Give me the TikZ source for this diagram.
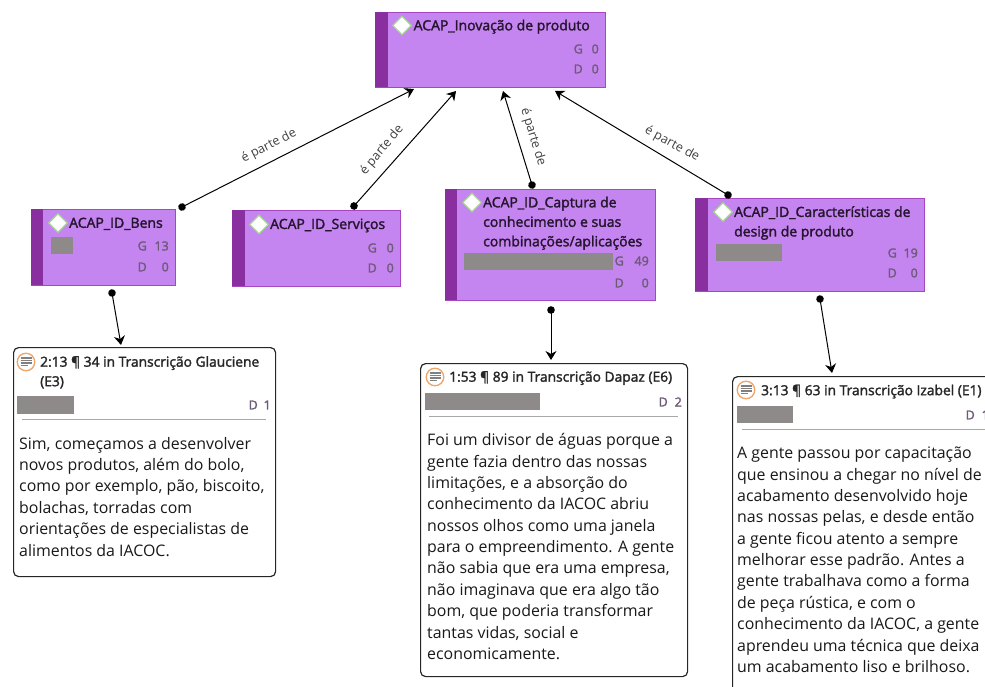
\documentclass[tikz,border=0pt]{standalone}
\usepackage{fontspec}
\setmainfont{Open Sans}
\newfontfamily\titlefont[FakeBold=2]{Open Sans}
\usetikzlibrary{arrows.meta,calc}
\definecolor{codefill}{HTML}{C585F0}
\definecolor{codestrip}{HTML}{8A2F9F}
\definecolor{codeedge}{HTML}{A845C0}
\definecolor{gdtext}{HTML}{6E5A78}
\definecolor{redact}{HTML}{8F8A8A}
\definecolor{titletext}{HTML}{25152E}
\definecolor{rulegray}{HTML}{A8A8A8}
\definecolor{iconorange}{HTML}{EDA56A}
\definecolor{icongray}{HTML}{808080}
\definecolor{diamondgreen}{HTML}{A5D68F}
\tikzset{
  codebox/.style={draw=codeedge,line width=1pt,fill=codefill,anchor=north west,inner sep=0pt},
  stripbox/.style={fill=codestrip,anchor=north west,inner sep=0pt,minimum width=12pt},
  notebox/.style={draw=black!85,line width=1.2pt,rounded corners=5pt,fill=white,anchor=north west,inner sep=0pt},
  codetitle/.style={anchor=north west,inner sep=0pt,align=left,text=titletext,font=\titlefont\fontsize{14}{19.5}\selectfont},
  notetitle/.style={anchor=north west,inner sep=0pt,align=left,text=black!85,font=\titlefont\fontsize{13.8}{19.5}\selectfont},
  gdlabel/.style={anchor=east,inner sep=0pt,text=gdtext,font=\titlefont\fontsize{12.5}{13}\selectfont},
  bodytext/.style={anchor=north west,inner sep=0pt,align=left,text=black!90,font=\fontsize{15.9}{21.35}\selectfont},
  redbox/.style={fill=redact,anchor=north west,inner sep=0pt},
  linklabel/.style={inner sep=0pt,text=black!75,font=\fontsize{12.6}{13}\selectfont},
  link/.style={line width=1pt,black,shorten <=-3.75pt,{Circle[length=7.5pt,width=7.5pt]}-{Stealth[length=9pt,width=11pt]}},
  diamond mark/.style={draw=diamondgreen,fill=white,line width=1.3pt,shape=rectangle,rotate=45,minimum size=13pt,inner sep=0pt},
  iconring/.style={circle,draw=iconorange,fill=white,line width=1.3pt,minimum size=17.5pt,inner sep=0pt},
}
\newcommand{\iconlines}[1]{%
  \foreach \dy/\w in {-4/11,-1.5/11,1/11,3.5/7}{
    \draw[icongray,line width=1.2pt] ($(#1)+(-5.5,\dy)$) -- ++(\w,0);
  }}
\begin{document}
\begin{tikzpicture}[x=1pt,y=-1pt]
\useasboundingbox (0,0) rectangle (985,687);
\clip (0,0) rectangle (985,687);
% code boxes
\node[codebox,minimum width=230pt,minimum height=75pt] (top) at (375,12) {};
\node[stripbox,minimum height=75pt,minimum width=13pt] (topstrip) at (375,12) {};
\node[codebox,minimum width=144pt,minimum height=76pt] (bens) at (31,209) {};
\node[stripbox,minimum height=76pt] (bensstrip) at (31,209) {};
\node[codebox,minimum width=168pt,minimum height=76pt] (serv) at (232,210) {};
\node[stripbox,minimum height=76pt,minimum width=13pt] (servstrip) at (232,210) {};
\node[codebox,minimum width=210pt,minimum height=111pt] (capt) at (445,189) {};
\node[stripbox,minimum height=111pt] (captstrip) at (445,189) {};
\node[codebox,minimum width=229pt,minimum height=93pt] (carac) at (695,198) {};
\node[stripbox,minimum height=93pt,minimum width=13pt] (caracstrip) at (695,198) {};
% diamonds
\node[diamond mark] (d1) at (402,25.5) {};
\node[diamond mark] (d2) at (58,223) {};
\node[diamond mark] (d3) at (259,224.5) {};
\node[diamond mark] (d4) at (472,202.5) {};
\node[diamond mark] (d5) at (723,212) {};
% code titles
\node[codetitle] (t1) at (413.5,19.5) {ACAP\_Inovação de produto};
\node[codetitle] (t2) at (69,217.5) {ACAP\_ID\_Bens};
\node[codetitle] (t3) at (270,218.5) {ACAP\_ID\_Serviços};
\node[codetitle] (t4) at (483,196.5) {ACAP\_ID\_Captura de\\conhecimento e suas\\combinações/aplicações};
\node[codetitle] (t5) at (734,206) {ACAP\_ID\_Características de\\design de produto};
% G D
\node[gdlabel] (g1a) at (583,49) {G}; \node[gdlabel] (g1b) at (599,49) {0};
\node[gdlabel] (g1c) at (583,69) {D}; \node[gdlabel] (g1d) at (599,69) {0};
\node[gdlabel] (g2a) at (147,246) {G}; \node[gdlabel] (g2b) at (169,246) {13};
\node[gdlabel] (g2c) at (147,267) {D}; \node[gdlabel] (g2d) at (169,267) {0};
\node[gdlabel] (g3a) at (377,248) {G}; \node[gdlabel] (g3b) at (394,248) {0};
\node[gdlabel] (g3c) at (377,268) {D}; \node[gdlabel] (g3d) at (394,268) {0};
\node[gdlabel] (g4a) at (624,261) {G}; \node[gdlabel] (g4b) at (649,261) {49};
\node[gdlabel] (g4c) at (624,283) {D}; \node[gdlabel] (g4d) at (649,283) {0};
\node[gdlabel] (g5a) at (897,253) {G}; \node[gdlabel] (g5b) at (918,253) {19};
\node[gdlabel] (g5c) at (897,273) {D}; \node[gdlabel] (g5d) at (918,273) {0};
% redactions in codes
\node[redbox,minimum width=22pt,minimum height=17pt] (r1) at (51,237) {};
\node[redbox,minimum width=149pt,minimum height=17pt] (r2) at (464,253) {};
\node[redbox,minimum width=66pt,minimum height=17pt] (r3) at (716,244) {};
% notes
\node[notebox,minimum width=262pt,minimum height=229pt] (n1) at (13,347) {};
\node[notebox,minimum width=267pt,minimum height=313pt] (n2) at (420,363) {};
\node[notebox,minimum width=280pt,minimum height=330pt] (n3) at (732,376) {};
% icons
\node[iconring] (i1) at (26,362) {}; \iconlines{i1}
\node[iconring] (i2) at (435,377) {}; \iconlines{i2}
\node[iconring] (i3) at (746,390) {}; \iconlines{i3}
% note titles
\node[notetitle] (nt1) at (40,356) {2:13 ¶ 34 in Transcrição Glauciene\\(E3)};
\node[notetitle] (nt2) at (449,371) {1:53 ¶ 89 in Transcrição Dapaz (E6)};
\node[notetitle] (nt3) at (761,384.5) {3:13 ¶ 63 in Transcrição Izabel (E1)};
% note redactions and D
\node[redbox,minimum width=57pt,minimum height=18pt] (r4) at (17,396) {};
\node[redbox,minimum width=115pt,minimum height=17pt] (r5) at (425,393) {};
\node[redbox,minimum width=56pt,minimum height=17pt] (r6) at (737,406) {};
\node[gdlabel] (dn1a) at (258,405) {D}; \node[gdlabel] (dn1b) at (271,405) {1};
\node[gdlabel] (dn2a) at (668,402) {D}; \node[gdlabel] (dn2b) at (682,402) {2};
\node[gdlabel] (dn3a) at (975,415) {D}; \node[gdlabel] (dn3b) at (989,415) {1};
% rules
\draw[rulegray,line width=1pt] ([shift={(9,72)}]n1.north west) -- ([shift={(-10,72)}]n1.north east);
\draw[rulegray,line width=1pt] ([shift={(9,53)}]n2.north west) -- ([shift={(-10,53)}]n2.north east);
\draw[rulegray,line width=1pt] ([shift={(10,53)}]n3.north west) -- ([shift={(-27,53)}]n3.north east);
% bodies
\node[bodytext] (b1) at (19,437) {Sim, começamos a desenvolver\\novos produtos, além do bolo,\\como por exemplo, pão, biscoito,\\bolachas, torradas com\\orientações de especialistas de\\alimentos da IACOC.};
\node[bodytext] (b2) at (427,433.5) {Foi um divisor de águas porque a\\gente fazia dentro das nossas\\limitações, e a absorção do\\conhecimento da IACOC abriu\\nossos olhos como uma janela\\para o empreendimento. A gente\\não sabia que era uma empresa,\\não imaginava que era algo tão\\bom, que poderia transformar\\tantas vidas, social e\\economicamente.};
\node[bodytext] (b3) at (737,447) {A gente passou por capacitação\\que ensinou a chegar no nível de\\acabamento desenvolvido hoje\\nas nossas pelas, e desde então\\a gente ficou atento a sempre\\melhorar esse padrão. Antes a\\gente trabalhava como a forma\\de peça rústica, e com o\\conhecimento da IACOC, a gente\\aprendeu uma técnica que deixa\\um acabamento liso e brilhoso.};
% connectors
\draw[link] ([shift={(6,-2)}]bens.north east) -- ([shift={(39,1)}]top.south west);
\draw[link] ([shift={(122,-4)}]serv.north west) -- ([shift={(81,3)}]top.south west);
\draw[link] ([shift={(87,-4)}]capt.north west) -- ([shift={(128,3)}]top.south west);
\draw[link] ([shift={(33,-3)}]carac.north west) -- ([shift={(180,3)}]top.south west);
\draw[link] ([shift={(81,7)}]bens.south west) -- ([shift={(108,-2)}]n1.north west);
\draw[link] ([shift={(106,9)}]capt.south west) -- ([shift={(131,-3)}]n2.north west);
\draw[link] ([shift={(125,7)}]carac.south west) -- ([shift={(100,-3)}]n3.north west);
\node[linklabel,rotate=27] (l1) at (269,146) {é parte de};
\node[linklabel,rotate=50] (l2) at (382,150) {é parte de};
\node[linklabel,rotate=-73] (l3) at (533,137) {é parte de};
\node[linklabel,rotate=-28] (l4) at (672,144) {é parte de};
\end{tikzpicture}
\end{document}
